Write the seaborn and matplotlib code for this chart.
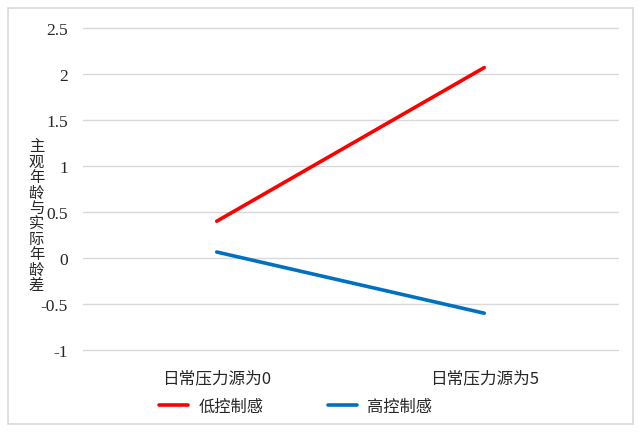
import matplotlib
matplotlib.use("Agg")
import matplotlib.pyplot as plt
import pandas as pd
import seaborn as sns
from matplotlib.patches import Rectangle

# values
conditions = ["日常压力源为0", "日常压力源为5"]
low_control = [0.40, 2.07]
high_control = [0.065, -0.60]
groups = ["低控制感", "高控制感"]
colors = ["#ff0000", "#0070c0"]

df = pd.DataFrame({
    "condition": conditions * 2,
    "value": low_control + high_control,
    "group": [groups[0]] * 2 + [groups[1]] * 2,
})

sns.set_style("white")
plt.rcParams["font.family"] = ["Noto Sans CJK SC", "DejaVu Sans"]

fig = plt.figure(figsize=(6.4, 4.35), dpi=100)
ax = fig.add_axes([0.1297, 0.1931, 0.8359, 0.7402])

sns.lineplot(data=df, x="condition", y="value", hue="group", palette=colors,
             linewidth=2.6, ax=ax, legend=False, solid_capstyle="round")

ax.set_xlim(-0.5, 1.5)
ax.set_ylim(-1, 2.5)
ax.set_yticks([-1, -0.5, 0, 0.5, 1, 1.5, 2, 2.5])
ax.set_yticklabels(["-1", "-0.5", "0", "0.5", "1", "1.5", "2", "2.5"],
                   family="Liberation Serif", fontsize=12.5)
ax.set_xticks([0, 1])
ax.set_xticklabels(conditions, fontsize=12)
ax.tick_params(axis="y", length=0, pad=11)
ax.tick_params(axis="x", length=0, pad=14)
ax.grid(axis="y", color="#d9d9d9", linewidth=1)
for gl in ax.get_ygridlines():
    gl.set_clip_on(False)
ax.set_axisbelow(True)
for s in ax.spines.values():
    s.set_visible(False)
ax.set_xlabel("")
ax.set_ylabel("")

# vertical stacked y label
fig.text(0.057, 0.503, "\n".join("主观年龄与实际年龄差"), ha="center", va="center",
         fontsize=11, linespacing=0.88)

handles = [plt.Line2D([], [], color=c, lw=2.6, solid_capstyle="round") for c in colors]
fig.legend(handles, groups, loc="center", bbox_to_anchor=(0.462, 0.063), ncol=2,
           frameon=False, fontsize=11.7, handlelength=1.8, columnspacing=4.0,
           handletextpad=0.6)

fig.patches.append(Rectangle((0.0125, 0.023), 0.976, 0.956, transform=fig.transFigure,
                             fill=False, edgecolor="#d9d9d9", linewidth=1.2))

fig.savefig("out.png", dpi=100)
